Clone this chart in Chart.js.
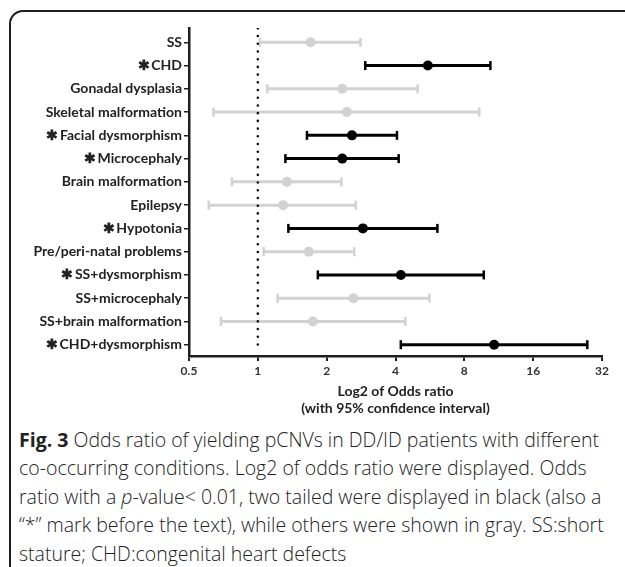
<!DOCTYPE html>
<html>
<head>
<meta charset="utf-8">
<script src="https://cdn.jsdelivr.net/npm/chart.js@4/dist/chart.umd.min.js"></script>
<style>
  body { margin: 0; background: #fff; width: 625px; height: 567px; overflow: hidden; position: relative; }
  #box { position: absolute; left: 9px; top: 10px; width: 640px; height: 600px; border: 2px solid #1e1e1e; border-radius: 14px; box-sizing: border-box; }
  #wrap { position: absolute; left: 0; top: 0; width: 625px; height: 420px; }
  #caption { position: absolute; left: 19px; top: 426px; width: 600px; font-family: "Open Sans", sans-serif; font-weight: 300; font-size: 19.5px; line-height: 28.4px; color: #222; white-space: nowrap; }
  #caption b { font-weight: 700; }
</style>
</head>
<body>
<div id="box"></div>
<div id="wrap"><canvas id="forest" width="625" height="420"></canvas></div>
<div id="caption"><b>Fig. 3</b> Odds ratio of yielding pCNVs in DD/ID patients with different<br>co-occurring conditions. Log2 of odds ratio were displayed. Odds<br>ratio with a <i>p</i>-value&lt; 0.01, two tailed were displayed in black (also a<br>“*” mark before the text), while others were shown in gray. SS:short<br>stature; CHD:congenital heart defects</div>
<script>
// conditions, top to bottom
var condicoes = ['SS', 'CHD', 'Gonadal dysplasia', 'Skeletal malformation', 'Facial dysmorphism',
    'Microcephaly', 'Brain malformation', 'Epilepsy', 'Hypotonia', 'Pre/peri-natal problems',
    'SS+dysmorphism', 'SS+microcephaly', 'SS+brain malformation', 'CHD+dysmorphism'];
// odds ratio and 95% CI
var odds = [1.70, 5.54, 2.34, 2.45, 2.58, 2.34, 1.34, 1.29, 2.88, 1.67, 4.22, 2.62, 1.74, 10.8];
var ic_baixo = [1.02, 2.95, 1.10, 0.64, 1.64, 1.32, 0.77, 0.61, 1.36, 1.06, 1.83, 1.22, 0.69, 4.22];
var ic_alto = [2.81, 10.4, 5.00, 9.30, 4.06, 4.13, 2.32, 2.68, 6.10, 2.64, 9.73, 5.63, 4.42, 27.6];
// p < 0.01
var signif = [false, true, false, false, true, true, false, false, true, false, true, false, false, true];
var ticks_x = [0.5, 1, 2, 4, 8, 16, 32];

var preto = '#000000';
var cinza = '#d2d2d2';

var datasets = [];

// reference line at OR = 1
datasets.push({
    data: [{ x: Math.log2(1), y: -0.6 }, { x: Math.log2(1), y: 13.2 }],
    showLine: true,
    borderColor: '#111',
    borderWidth: 2.6,
    borderCapStyle: 'round',
    borderDash: [0.01, 7.7],
    pointRadius: 0
});

for (var i = 0; i < condicoes.length; i++) {
    var cor = signif[i] ? preto : cinza;
    // confidence interval with caps
    datasets.push({
        data: [{ x: Math.log2(ic_baixo[i]), y: i }, { x: Math.log2(ic_alto[i]), y: i }],
        showLine: true,
        borderColor: cor,
        borderWidth: 3,
        pointStyle: 'line',
        rotation: 90,
        pointRadius: 4.5,
        pointBorderWidth: 2.5,
        pointBorderColor: cor,
        pointBackgroundColor: cor
    });
    // odds ratio
    datasets.push({
        data: [{ x: Math.log2(odds[i]), y: i }],
        pointStyle: 'circle',
        pointRadius: 5,
        pointBorderWidth: 0,
        pointBackgroundColor: cor,
        pointBorderColor: cor
    });
}

function rotulo(v) {
    var k = Math.round(v);
    if (k !== v || k < 0 || k >= condicoes.length) return '';
    return (signif[k] ? '\u2731\u2009' : '') + condicoes[k];
}

new Chart(document.getElementById('forest').getContext('2d'), {
    type: 'scatter',
    data: { datasets: datasets },
    options: {
        responsive: false,
        animation: false,
        events: [],
        layout: { padding: { top: 28, right: 23, left: 0, bottom: 0 } },
        plugins: { legend: { display: false }, tooltip: { enabled: false } },
        scales: {
            x: {
                type: 'linear',
                min: Math.log2(ticks_x[0]),
                max: Math.log2(ticks_x[ticks_x.length - 1]),
                afterBuildTicks: function(scale) {
                    scale.ticks = ticks_x.map(function(t) { return { value: Math.log2(t) }; });
                },
                afterFit: function(scale) { scale.height = 64; },
                ticks: {
                    callback: function(v) { return String(Math.pow(2, v)); },
                    font: { family: 'Lato', size: 12, weight: '700' },
                    color: '#333',
                    padding: 3,
                    maxRotation: 0
                },
                grid: { drawOnChartArea: false, drawTicks: true, tickLength: 5, color: '#1e1e1e', lineWidth: 2 },
                border: { display: true, color: '#1e1e1e', width: 2.5 },
                title: {
                    display: true,
                    text: ['Log2 of Odds ratio', '(with 95% confidence interval)'],
                    font: { family: 'Lato', size: 14, weight: '700', lineHeight: 1.2 },
                    color: '#222',
                    padding: { top: 0, bottom: 3 }
                }
            },
            y: {
                type: 'linear',
                reverse: true,
                min: -0.615,
                max: 13.486,
                afterBuildTicks: function(scale) {
                    scale.ticks = condicoes.map(function(c, k) { return { value: k }; });
                },
                afterFit: function(scale) { scale.width = 189; },
                ticks: {
                    callback: rotulo,
                    font: { family: 'Lato', size: 14, weight: '700' },
                    color: '#222',
                    padding: 2,
                    autoSkip: false
                },
                grid: { drawOnChartArea: false, drawTicks: true, tickLength: 5, color: '#1e1e1e', lineWidth: 1.5 },
                border: { display: true, color: '#1e1e1e', width: 2.5 }
            }
        }
    }
});
</script>
</body>
</html>
